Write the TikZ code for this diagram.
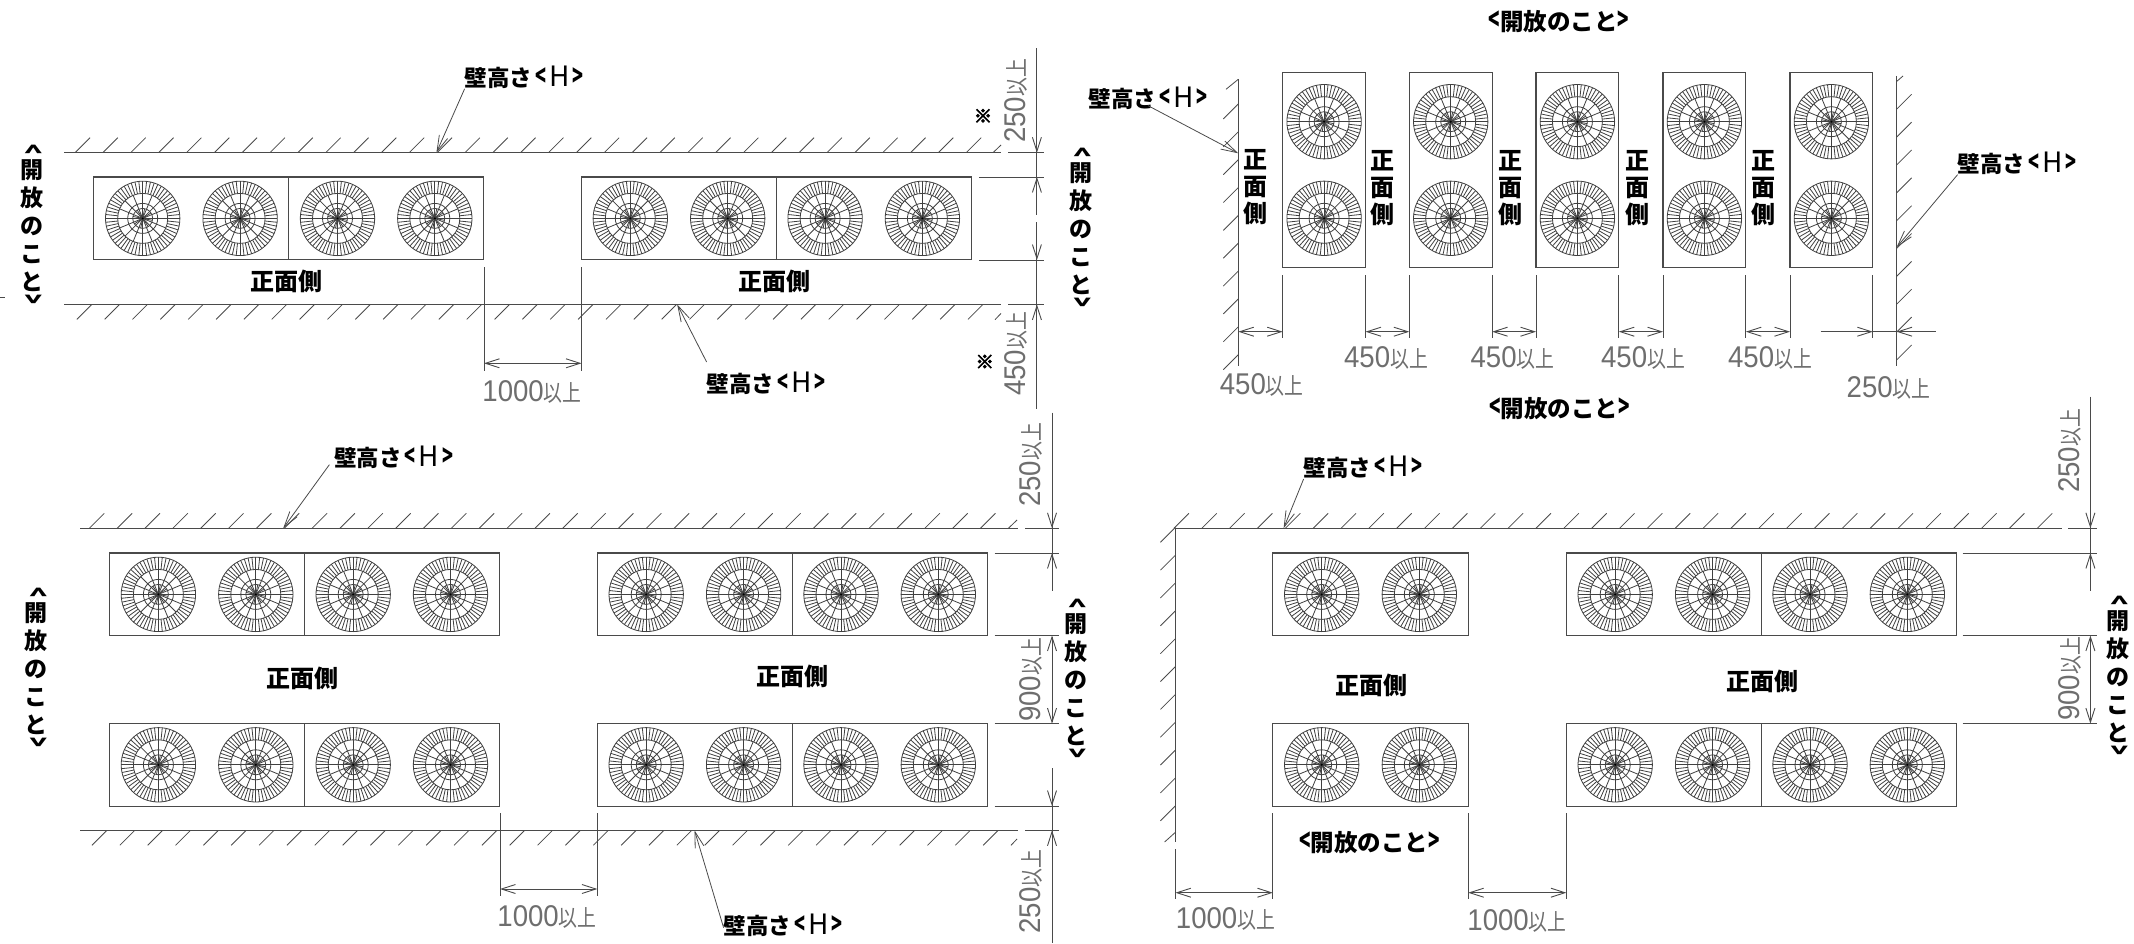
\documentclass[tikz,border=0pt]{standalone}
\usepackage{fontspec}
\usepackage{graphicx}
\usetikzlibrary{arrows.meta}
\newfontfamily\jp{Noto Sans CJK JP}
\newfontfamily\jpfat{Noto Sans CJK JP Bold}[FakeBold=5]
\newfontfamily\dimdigits{Liberation Sans}
\definecolor{dimgray}{HTML}{6E6E6E}
\definecolor{linegray}{HTML}{4A4A4A}
\tikzset{
  wallline/.style={line width=1.2pt,color=linegray},
  hatchline/.style={line width=.8pt,color=linegray},
  boxline/.style={line width=1.1pt,color=linegray},
  fanline/.style={line width=.8pt,color=black!75},
  dimline/.style={line width=.9pt,color=linegray},
  barbtip/.style={dimline,-{Straight Barb[length=14pt,width=9pt]}},
  barbboth/.style={dimline,{Straight Barb[length=14pt,width=9pt]}-{Straight Barb[length=14pt,width=9pt]}},
  leader/.style={line width=.8pt,color=linegray,-{Straight Barb[length=16pt,width=9pt]}},
  txt/.style={inner sep=0pt,outer sep=0pt,text=black},
  dimtext/.style={inner sep=0pt,outer sep=0pt},
  vopen/.style={txt,align=center,font=\jp\fontsize{23}{28}\selectfont\bfseries},
  vfront/.style={txt,align=center,font=\jp\fontsize{24}{27}\selectfont\bfseries},
}
\newcommand{\lb}{\scalebox{.8}[1.3]{<}}
\newcommand{\rb}{\scalebox{.8}[1.3]{>}}
\newcommand{\dimtxt}[1]{{\color{dimgray}\scalebox{.92}[1]{\fontsize{30}{30}\dimdigits #1}\scalebox{.82}[1]{\fontsize{23}{23}\jp 以上}}}
\newcommand{\wallh}{{\jp\fontsize{22.5}{24}\selectfont\bfseries 壁高さ\kern3pt\lb\kern3pt{\mdseries\fontsize{28}{28}\selectfont H}\kern3pt\rb}}
\newcommand{\openh}{{\jp\fontsize{23.5}{24}\selectfont\bfseries \lb 開放のこと\rb}}
\newcommand{\frontt}{{\jp\fontsize{24}{24}\selectfont\bfseries 正面側}}
\newcommand{\openv}{\rotatebox[origin=c]{-90}{\scalebox{.7}[1.4]{<}}\\[-9pt]開\\放\\の\\こ\\と\\[-9pt]\rotatebox[origin=c]{-90}{\scalebox{.7}[1.4]{>}}}
\newcommand{\frontv}{正\\面\\側}
\newcommand{\fanat}[2]{%
  \begin{scope}[shift={(#1,#2)},fanline]
    \draw (0,0) circle[radius=37.2] (0,0) circle[radius=25] (0,0) circle[radius=15] (0,0) circle[radius=10];
    \foreach \a in {0,6,...,354}{\draw (\a:25) -- (\a:37.2);}
    \foreach \a in {0,22.5,...,337.5}{\draw (0,0) -- (\a:25);}
    \foreach \a in {11.25,56.25,...,326.25}{\draw (0,0) -- (\a:10);}
    \fill[black] (0,0) circle[radius=1.1];
  \end{scope}}
\newcommand{\fourbox}[2]{%
  \draw[boxline] (#1,#2) rectangle ++(390,82.7);
  \draw[boxline] ({#1+195},#2) -- ++(0,82.7);
  \fanat{#1+48.8}{#2+41.4}\fanat{#1+146.2}{#2+41.4}\fanat{#1+243.6}{#2+41.4}\fanat{#1+340.9}{#2+41.4}}
\newcommand{\twobox}[2]{%
  \draw[boxline] (#1,#2) rectangle ++(195.3,82.7);
  \fanat{#1+48.8}{#2+41.4}\fanat{#1+146.4}{#2+41.4}}
\newcommand{\tallbox}[1]{%
  \draw[boxline] (#1,72.3) rectangle ++(82.8,195);
  \fanat{#1+41.4}{121.7}\fanat{#1+41.4}{218.3}}
% hatches: start x, y, last index
\newcommand{\hatchabove}[3]{\foreach \k in {0,...,#3}{\draw[hatchline] ({#1+27.85*\k},#2) -- ++(15,-15);}}
\newcommand{\hatchbelow}[3]{\foreach \k in {0,...,#3}{\draw[hatchline] ({#1+27.85*\k},{#2+15}) -- ++(15,-15);}}
\newcommand{\hatchleft}[3]{\foreach \k in {0,...,#3}{\draw[hatchline] ({#1-15},{#2+15+27.85*\k}) -- ++(15,-15);}}
\newcommand{\hatchright}[3]{\foreach \k in {0,...,#3}{\draw[hatchline] (#1,{#2+27.85*\k}) -- ++(15,-15);}}
\newcommand{\tipdown}[2]{\draw[barbtip] (#1,{#2-15}) -- (#1,#2);}
\newcommand{\tipup}[2]{\draw[barbtip] (#1,{#2+15}) -- (#1,#2);}
\begin{document}
\begin{tikzpicture}[x=1pt,y=-1pt]
\useasboundingbox (0,0) rectangle (2134,944);
\fill[white] (0,0) rectangle (2134,944);

% ---------- panel A ----------
\draw[wallline] (64.3,152.7) -- (1001.4,152.7) (1008,152.7) -- (1043.8,152.7);
\draw[wallline] (64.3,304.4) -- (1001.4,304.4) (1008,304.4) -- (1043.8,304.4);
\hatchabove{75}{152.7}{32}
\draw[hatchline] (993,152.7) -- (1001,145);
\hatchbelow{76.8}{304.4}{32}
\draw[hatchline] (995,319.7) -- (1001,313.4);
\fourbox{93.9}{177}
\fourbox{581.5}{177}
\draw[dimline] (484,267.3) -- (484,370.7) (581.5,267.3) -- (581.5,370.7);
\draw[barbboth] (484,363.3) -- (581.5,363.3);
\node[dimtext] (dA1) at (532,391.5) {\dimtxt{1000}};
\draw[dimline] (1036.9,48.3) -- (1036.9,215) (1036.9,222.3) -- (1036.9,409.3);
\draw[dimline] (979,177) -- (1043.8,177) (979,260) -- (1043.8,260);
\tipdown{1036.9}{152.7}\tipup{1036.9}{177}\tipdown{1036.9}{260}\tipup{1036.9}{304.4}
\node[dimtext,rotate=90] (dA2) at (1016,101) {\dimtxt{250}};
\node[dimtext,rotate=90] (dA3) at (1016,354) {\dimtxt{450}};
\node[txt,font=\jpfat\fontsize{18}{18}\selectfont] (noteA1) at (983,116) {※};
\node[txt,font=\jpfat\fontsize{18}{18}\selectfont] (noteA2) at (984.8,361.7) {※};
\node[vopen] (openA1) at (32,226.7) {\openv};
\draw[line width=.8pt,color=linegray] (0,297) -- (5.4,297);
\node[vopen] (openA2) at (1080.7,229.8) {\openv};
\node[txt] (frA1) at (286.8,281.7) {\frontt};
\node[txt] (frA2) at (774.8,281.7) {\frontt};
\node[txt] (wA1) at (524,77.5) {\wallh};
\coordinate (pA1) at (436.4,152.7);
\draw[leader] (wA1.south west) -- (pA1);
\node[txt] (wA2) at (766,383.3) {\wallh};
\coordinate (pA2) at (677.2,304.4);
\draw[leader] ([yshift=10pt]wA2.north west) -- (pA2);

% ---------- panel B ----------
\node[txt] (openB1) at (1559,22) {\openh};
\node[txt] (openB2) at (1559.5,408.3) {\openh};
\draw[wallline] (1238.3,79.3) -- (1238.3,365.7);
\draw[wallline] (1896.6,76) -- (1896.6,365.7);
\hatchleft{1238.3}{104}{9}
\draw[hatchline] (1226,89.3) -- (1238.3,79.3);
\hatchright{1896.6}{109.3}{9}
\draw[hatchline] (1896.6,81.5) -- (1903,76);
\foreach \bx in {1282.7,1409.3,1536,1663,1790}{\tallbox{\bx}}
\foreach \ex in {1282.7,1365.5,1409.3,1492.1,1536,1618.8,1663,1745.8,1790,1872.8}{\draw[dimline] (\ex,275) -- (\ex,338.3);}
\draw[barbboth] (1238.3,331.7) -- (1282.7,331.7);
\draw[barbboth] (1365.5,331.7) -- (1409.3,331.7);
\draw[barbboth] (1492.1,331.7) -- (1536,331.7);
\draw[barbboth] (1618.8,331.7) -- (1663,331.7);
\draw[barbboth] (1745.8,331.7) -- (1790,331.7);
\draw[barbtip] (1820.7,331.7) -- (1872.8,331.7);
\draw[barbtip] (1935.5,331.7) -- (1896.6,331.7);
\draw[dimline] (1872.8,331.7) -- (1896.6,331.7);
\node[dimtext] (dB1) at (1261.7,385) {\dimtxt{450}};
\node[dimtext] (dB2) at (1386,358) {\dimtxt{450}};
\node[dimtext] (dB3) at (1512.5,358) {\dimtxt{450}};
\node[dimtext] (dB4) at (1643,358) {\dimtxt{450}};
\node[dimtext] (dB5) at (1770,358) {\dimtxt{450}};
\node[dimtext] (dB6) at (1888.6,388) {\dimtxt{250}};
\node[vfront] (frB1) at (1255,187.5) {\frontv};
\node[vfront] (frB2) at (1382.7,188.5) {\frontv};
\node[vfront] (frB3) at (1510,188.5) {\frontv};
\node[vfront] (frB4) at (1637.5,188.5) {\frontv};
\node[vfront] (frB5) at (1763,188.5) {\frontv};
\node[txt] (wB1) at (1148,98.3) {\wallh};
\coordinate (pB1) at (1238.3,153.3);
\draw[leader] ([yshift=4pt]wB1.south) -- (pB1);
\node[txt] (wB2) at (2017,163.3) {\wallh};
\coordinate (pB2) at (1896.6,247.3);
\draw[leader] (wB2.south west) -- (pB2);

% ---------- panel C ----------
\draw[wallline] (80.4,528.3) -- (1018,528.3) (1025,528.3) -- (1059,528.3);
\draw[wallline] (80.4,830.3) -- (1018,830.3) (1025,830.3) -- (1059,830.3);
\hatchabove{89.3}{528.3}{32}
\draw[hatchline] (1008.4,528.3) -- (1017,520);
\hatchbelow{92}{830.3}{32}
\draw[hatchline] (1011,845.3) -- (1017,839);
\fourbox{109.6}{553}
\fourbox{597.4}{553}
\fourbox{109.6}{723.4}
\fourbox{597.4}{723.4}
\draw[dimline] (500,813.3) -- (500,896) (597.4,813.3) -- (597.4,896);
\draw[barbboth] (500,889) -- (597.4,889);
\node[dimtext] (dC1) at (547,917) {\dimtxt{1000}};
\draw[dimline] (1052,412.7) -- (1052,590.7) (1052,768.3) -- (1052,942.7);
\draw[barbboth] (1052,635.5) -- (1052,723.6);
\draw[dimline] (994.5,553) -- (1059,553) (994.5,635.5) -- (1059,635.5) (994.5,723.6) -- (1059,723.6) (994.5,806) -- (1059,806);
\tipdown{1052}{528.3}\tipup{1052}{553}\tipdown{1052}{806}\tipup{1052}{830.3}
\node[dimtext,rotate=90] (dC2) at (1031.4,465) {\dimtxt{250}};
\node[dimtext,rotate=90] (dC3) at (1031.4,680) {\dimtxt{900}};
\node[dimtext,rotate=90] (dC4) at (1031.4,891.7) {\dimtxt{250}};
\node[vopen] (openC1) at (36.4,670) {\openv};
\node[vopen] (openC2) at (1076,680.8) {\openv};
\node[txt] (frC1) at (302.9,678.3) {\frontt};
\node[txt] (frC2) at (792.8,676.7) {\frontt};
\node[txt] (wC1) at (393.8,457.3) {\wallh};
\coordinate (pC1) at (283.2,528.3);
\draw[leader] ([xshift=-5pt,yshift=4pt]wC1.south west) -- (pC1);
\node[txt] (wC2) at (783,925) {\wallh};
\coordinate (pC2) at (694.5,830.3);
\draw[leader] ([yshift=-14pt]wC2.north west) -- (pC2);

% ---------- panel D ----------
\draw[wallline] (2061.7,528.3) -- (1175.4,528.3) -- (1175.4,841.7);
\draw[wallline] (2068.3,528.3) -- (2096.7,528.3);
\hatchabove{1173.9}{528.3}{31}
\hatchleft{1175.4}{527.3}{10}
\draw[hatchline] (1164.6,842) -- (1175.4,832.3);
\twobox{1272.9}{553}
\twobox{1272.9}{723.4}
\fourbox{1566.4}{553}
\fourbox{1566.4}{723.4}
\draw[dimline] (1175.4,849.3) -- (1175.4,899.3);
\foreach \ex in {1272.9,1468.2,1566.4}{\draw[dimline] (\ex,813.3) -- (\ex,899.3);}
\draw[barbboth] (1175.4,892.7) -- (1272.9,892.7);
\draw[barbboth] (1468.2,892.7) -- (1566.4,892.7);
\node[dimtext] (dD1) at (1225.5,919) {\dimtxt{1000}};
\node[dimtext] (dD2) at (1517,921) {\dimtxt{1000}};
\node[txt] (openD1) at (1369.3,842.7) {\openh};
\node[txt] (frD1) at (1371.8,685) {\frontt};
\node[txt] (frD2) at (1762.3,681.7) {\frontt};
\node[txt] (wD1) at (1363,467.7) {\wallh};
\coordinate (pD1) at (1283.6,528.3);
\draw[leader] (wD1.south west) -- (pD1);
\draw[dimline] (2090.4,396.7) -- (2090.4,590.7);
\draw[barbboth] (2090.4,635.5) -- (2090.4,723.6);
\draw[dimline] (1962.7,553) -- (2096.7,553) (1962.7,635.5) -- (2096.7,635.5) (1962.7,723.6) -- (2096.7,723.6);
\tipdown{2090.4}{528.3}\tipup{2090.4}{553}
\node[dimtext,rotate=90] (dD3) at (2070,451) {\dimtxt{250}};
\node[dimtext,rotate=90] (dD4) at (2070,679) {\dimtxt{900}};
\node[vopen] (openD2) at (2118.3,678) {\openv};
\end{tikzpicture}
\end{document}
